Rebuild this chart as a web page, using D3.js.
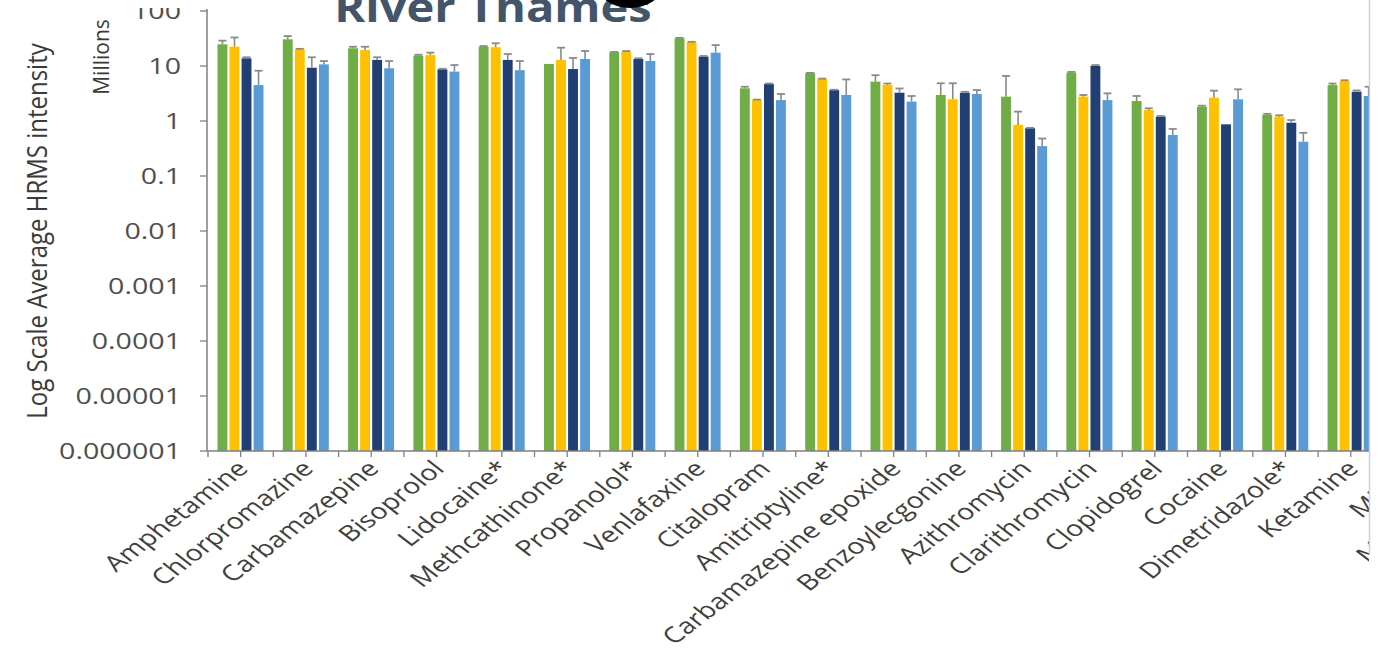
<!DOCTYPE html>
<html>
<head>
<meta charset="utf-8">
<script src="https://cdn.jsdelivr.net/npm/d3@7"></script>
<style>
  html, body { margin: 0; padding: 0; background: #fff; }
  svg { display: block; }
</style>
</head>
<body>
<svg id="chart" width="1381" height="658"></svg>
<script>
// Compounds along the x axis (the last two run off the right edge)
const categories = [
  "Amphetamine", "Chlorpromazine", "Carbamazepine", "Bisoprolol", "Lidocaine*",
  "Methcathinone*", "Propanolol*", "Venlafaxine", "Citalopram", "Amitriptyline*",
  "Carbamazepine epoxide", "Benzoylecgonine", "Azithromycin", "Clarithromycin",
  "Clopidogrel", "Cocaine", "Dimetridazole*", "Ketamine", "MDMA", "Mephedrone"
];

// Average HRMS intensity (millions) for the four sampling series
const greenValues  = [24.8, 30.6, 21.0, 15.4, 22.4, 10.9, 17.7, 31.9, 3.93, 7.4, 5.2, 2.97, 2.77, 7.55, 2.31, 1.82, 1.29, 4.5];
const yellowValues = [22.4, 20.0, 19.5, 15.8, 22.0, 12.9, 18.2, 27.0, 2.4, 5.8, 4.5, 2.48, 0.85, 2.77, 1.58, 2.65, 1.2, 5.3];
const navyValues   = [13.8, 9.3, 12.9, 8.7, 12.9, 8.8, 13.4, 14.8, 4.7, 3.66, 3.27, 3.27, 0.74, 10.0, 1.2, 0.87, 0.93, 3.41];
const blueValues   = [4.5, 10.7, 9.1, 7.9, 8.4, 13.4, 12.3, 17.5, 2.4, 2.97, 2.25, 3.1, 0.35, 2.4, 0.556, 2.48, 0.42, 2.85];

// Plus-direction error bar lengths (millions)
const greenErrors  = [4.1, 4.4, 1.4, 0.6, 0.6, 0, 0.3, 0.6, 0.27, 0.1, 1.6, 1.88, 3.83, 0.25, 0.54, 0.08, 0.06, 0.3];
const yellowErrors = [10.6, 0.5, 2.9, 1.7, 3.9, 8.6, 0.5, 0.5, 0.05, 0.1, 0.3, 2.37, 0.63, 0.2, 0.12, 0.91, 0.07, 0.2];
const navyErrors   = [0.6, 5.1, 1.5, 0.2, 3.6, 5.2, 0.4, 0.4, 0.1, 0.04, 0.63, 0.13, 0.01, 0.4, 0.03, 0, 0.11, 0.19];
const blueErrors   = [3.7, 1.6, 3.2, 2.5, 3.9, 5.3, 4.2, 6.5, 0.7, 2.73, 0.6, 0.56, 0.13, 0.78, 0.16, 1.29, 0.19, 1.35];

// Y axis tick values and their labels
const yTickValues = [1e-6, 1e-5, 1e-4, 1e-3, 1e-2, 1e-1, 1, 10, 100];
const yTickLabels = ["0.000001", "0.00001", "0.0001", "0.001", "0.01", "0.1", "1", "10", "100"];

const seriesNames  = ["green", "yellow", "navy", "blue"];
const seriesColors = ["#70AD47", "#FFC000", "#213F73", "#5B9BD5"];

const series = [
  { name: "green",  values: greenValues,  errors: greenErrors },
  { name: "yellow", values: yellowValues, errors: yellowErrors },
  { name: "navy",   values: navyValues,   errors: navyErrors },
  { name: "blue",   values: blueValues,   errors: blueErrors }
];

const svg = d3.select("#chart");
const stretch = 1.3;            // horizontal stretch applied to the lettering
const axisLeft = 207, axisBottom = 451, axisTop = 11, clipRight = 1369;
const step = 65.3;

const x = d3.scaleBand()
  .domain(categories)
  .range([axisLeft + 1, axisLeft + 1 + step * categories.length])
  .padding(0);

const xInner = d3.scaleBand()
  .domain(seriesNames)
  .range([9.5, 55.5])
  .paddingInner(0.18);

const y = d3.scaleLog()
  .domain([1e-6, 100])
  .range([axisBottom, axisTop]);

const color = d3.scaleOrdinal().domain(seriesNames).range(seriesColors);

svg.append("defs").append("clipPath").attr("id", "plotClip")
  .append("rect").attr("x", 0).attr("y", 0).attr("width", clipRight).attr("height", 658);

const plot = svg.append("g").attr("clip-path", "url(#plotClip)");

// Bars
const groups = plot.selectAll("g.cat")
  .data(categories.slice(0, greenValues.length))
  .join("g")
  .attr("class", "cat")
  .attr("transform", d => `translate(${x(d)},0)`);

groups.each(function(cat, i) {
  const g = d3.select(this);
  series.forEach(s => {
    const v = s.values[i];
    const bx = xInner(s.name);
    g.append("rect")
      .attr("x", bx)
      .attr("y", y(v))
      .attr("width", xInner.bandwidth())
      .attr("height", axisBottom - y(v))
      .attr("fill", color(s.name));
    const e = s.errors[i];
    if (e > 0) {
      const cx = bx + xInner.bandwidth() / 2;
      const top = y(v + e);
      g.append("line")
        .attr("x1", cx).attr("x2", cx)
        .attr("y1", y(v)).attr("y2", top)
        .attr("stroke", "#8a8a8a").attr("stroke-width", 1.6);
      g.append("line")
        .attr("x1", cx - 4).attr("x2", cx + 4)
        .attr("y1", top).attr("y2", top)
        .attr("stroke", "#8a8a8a").attr("stroke-width", 1.8);
    }
  });
});

// X axis line with ticks at category edges and centres
plot.append("line")
  .attr("x1", axisLeft).attr("x2", clipRight)
  .attr("y1", axisBottom).attr("y2", axisBottom)
  .attr("stroke", "#7f7f7f").attr("stroke-width", 1.5);

const xTicks = [];
categories.forEach(c => { xTicks.push(x(c)); xTicks.push(x(c) + x.bandwidth() / 2); });
plot.selectAll("line.xtick")
  .data(xTicks)
  .join("line")
  .attr("class", "xtick")
  .attr("x1", d => d).attr("x2", d => d)
  .attr("y1", axisBottom).attr("y2", axisBottom + 6)
  .attr("stroke", "#7f7f7f").attr("stroke-width", 1.3);

// X labels, rotated
plot.selectAll("text.xlab")
  .data(categories)
  .join("text")
  .attr("class", "xlab")
  .attr("transform", d => `translate(${x(d) + x.bandwidth() / 2 + 9},${axisBottom + 19}) scale(${stretch},1) rotate(-45)`)
  .attr("text-anchor", "end")
  .attr("font-family", "Open Sans, sans-serif")
  .attr("font-size", 22)
  .attr("fill", "#3f3f3f")
  .text(d => d);

// Y axis
svg.append("line")
  .attr("x1", axisLeft).attr("x2", axisLeft)
  .attr("y1", axisTop - 2).attr("y2", axisBottom)
  .attr("stroke", "#7f7f7f").attr("stroke-width", 1.5);

svg.selectAll("line.ytick")
  .data(yTickValues)
  .join("line")
  .attr("class", "ytick")
  .attr("x1", axisLeft - 7).attr("x2", axisLeft)
  .attr("y1", d => y(d)).attr("y2", d => y(d))
  .attr("stroke", "#7f7f7f").attr("stroke-width", 1.3);

svg.selectAll("text.ylab")
  .data(yTickValues)
  .join("text")
  .attr("class", "ylab")
  .attr("transform", (d, i) => `translate(181,${y(d)}) scale(${stretch},1)`)
  .attr("text-anchor", "end")
  .attr("dy", "0.36em")
  .attr("font-family", "Open Sans, sans-serif")
  .attr("font-size", 22)
  .attr("fill", "#4f4f4f")
  .text((d, i) => yTickLabels[i]);

// Axis titles
svg.append("text")
  .attr("transform", `translate(47,231) scale(1.1,1) rotate(-90)`)
  .attr("text-anchor", "middle")
  .attr("font-family", "Open Sans, sans-serif")
  .attr("font-size", 24)
  .attr("fill", "#3a3a3a")
  .text("Log Scale Average HRMS intensity");

svg.append("text")
  .attr("transform", `translate(109,57) scale(1.05,1) rotate(-90)`)
  .attr("text-anchor", "middle")
  .attr("font-family", "Open Sans, sans-serif")
  .attr("font-size", 21)
  .attr("fill", "#3a3a3a")
  .text("Millions");

// Heading strip at the very top
svg.append("rect")
  .attr("x", 0).attr("y", 0).attr("width", 700).attr("height", 8)
  .attr("fill", "#fff");

svg.append("text")
  .attr("transform", `translate(493,22) scale(1.12,1)`)
  .attr("text-anchor", "middle")
  .attr("font-family", "Open Sans, sans-serif")
  .attr("font-weight", "bold")
  .attr("font-size", 42)
  .attr("fill", "#44546A")
  .text("River Thames");

// Lower edge of a larger black letter above the heading
svg.append("ellipse")
  .attr("cx", 630).attr("cy", -14).attr("rx", 32).attr("ry", 22)
  .attr("fill", "#000");

// Frame edge on the right
svg.append("line")
  .attr("x1", clipRight + 0.5).attr("x2", clipRight + 0.5)
  .attr("y1", 0).attr("y2", 555)
  .attr("stroke", "#c9cfe9").attr("stroke-width", 1.5);
</script>
</body>
</html>
